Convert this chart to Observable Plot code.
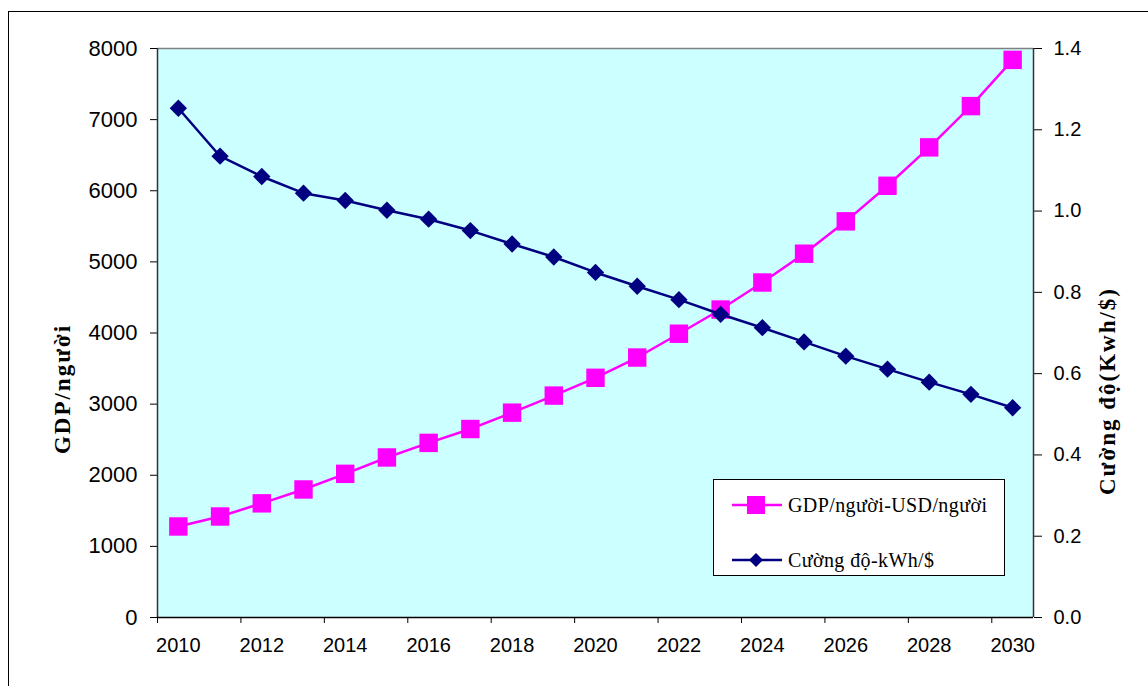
<!DOCTYPE html>
<html>
<head>
<meta charset="utf-8">
<script src="https://cdn.jsdelivr.net/npm/d3@7"></script>
<script src="https://cdn.jsdelivr.net/npm/@observablehq/plot@0.6"></script>
<style>
  html, body { margin: 0; padding: 0; background: #fff; overflow: hidden; }
  #wrap { position: relative; width: 1148px; height: 686px; overflow: hidden; }
  #border { position: absolute; left: 8px; top: 11px; width: 1200px; height: 720px; border: 1px solid #000; box-sizing: border-box; }
  #chart { position: absolute; left: 0; top: 0; }
  .ytitle { position: absolute; font-family: "Liberation Serif", "Times New Roman", serif; font-weight: bold; font-size: 23px; letter-spacing: 2px; white-space: nowrap; transform: translate(-50%, -50%) rotate(-90deg); color: #000; }
  #legend { position: absolute; left: 713px; top: 479px; width: 292px; height: 97px; border: 1px solid #000; background: #fff; box-sizing: border-box; }
  .row { position: absolute; left: 18px; height: 24px; display: flex; align-items: center; font-family: "Liberation Serif", "Times New Roman", serif; font-size: 20px; letter-spacing: 0.4px; color: #000; white-space: nowrap; }
  .row svg { margin-right: 6px; }
</style>
</head>
<body>
<div id="wrap">
  <div id="border"></div>
  <div id="chart"></div>
  <div class="ytitle" style="left:63px; top:389px;">GDP/người</div>
  <div class="ytitle" style="left:1108px; top:391px;">Cường độ(Kwh/$)</div>
  <div id="legend"></div>
</div>
<script>
// Years on the category axis
const years = d3.range(2010, 2031);
// GDP per capita, USD/person (left axis)
const gdp = [1280, 1420, 1605, 1800, 2020, 2250, 2455, 2650, 2880, 3120, 3370, 3655, 3990, 4330, 4710, 5115, 5570, 6070, 6610, 7190, 7840];
// Energy intensity, kWh/$ (right axis)
const intensity = [1.253, 1.135, 1.085, 1.044, 1.026, 1.002, 0.980, 0.952, 0.919, 0.887, 0.849, 0.815, 0.782, 0.746, 0.713, 0.678, 0.643, 0.611, 0.579, 0.549, 0.516];
// Axis ticks
const gdpTicks = d3.range(0, 8001, 1000);
const intensityTicks = [0, 0.2, 0.4, 0.6, 0.8, 1.0, 1.2, 1.4];
const yearLabels = d3.range(2010, 2031, 2);

const gdpMax = 8000, intensityMax = 1.4;
const k = gdpMax / intensityMax; // maps intensity onto the GDP scale

const seriesGdp = years.map((y, i) => ({year: y, value: gdp[i]}));
const seriesInt = years.map((y, i) => ({year: y, value: intensity[i] * k}));

const colGdp = "#ff00ff", colInt = "#000080";

const chart = Plot.plot({
  width: 1148,
  height: 686,
  marginLeft: 157,
  marginRight: 115,
  marginTop: 48,
  marginBottom: 69,
  style: {fontFamily: "'Liberation Sans', Arial, sans-serif", color: "#000", background: "transparent"},
  x: {domain: [2009.5, 2030.5]},
  y: {domain: [0, gdpMax]},
  marks: [
    Plot.frame({fill: "#ccffff", stroke: null}),
    Plot.ruleY([gdpMax], {stroke: "#808080", strokeWidth: 1.5}),
    // left axis
    Plot.axisY(gdpTicks, {anchor: "left", tickSize: 7, tickPadding: 13, fontSize: 22, tickFormat: d => String(d), label: null, stroke: "#000"}),
    // right axis
    Plot.axisY(intensityTicks.map(v => v * k), {anchor: "right", tickSize: 8, tickPadding: 12, fontSize: 20, tickFormat: d => (d / k).toFixed(1), label: null, stroke: "#000"}),
    // x tick marks between category pairs
    Plot.axisX(d3.range(2009.5, 2030, 2), {anchor: "bottom", tickSize: 6, tickFormat: () => "", label: null, stroke: "#000"}),
    Plot.axisX(yearLabels, {anchor: "bottom", tickSize: 0, tickPadding: 20, fontSize: 20, tickFormat: d => String(d), label: null}),
    Plot.ruleX([2009.5], {stroke: "#333", strokeWidth: 1.5}),
    Plot.ruleX([2030.5], {stroke: "#333", strokeWidth: 1.5}),
    Plot.ruleY([0], {stroke: "#000", strokeWidth: 1.5}),
    // GDP series
    Plot.line(seriesGdp, {x: "year", y: "value", stroke: colGdp, strokeWidth: 2.5}),
    Plot.dot(seriesGdp, {x: "year", y: "value", symbol: "square", r: 10.4, fill: colGdp, stroke: null}),
    // intensity series
    Plot.line(seriesInt, {x: "year", y: "value", stroke: colInt, strokeWidth: 2.5}),
    Plot.dot(seriesInt, {x: "year", y: "value", symbol: "diamond2", r: 7.8, fill: colInt, stroke: null})
  ]
});
document.getElementById("chart").appendChild(chart);

// Legend
const legendItems = [
  {label: "GDP/người-USD/người", color: colGdp, symbol: "square", top: 13},
  {label: "Cường độ-kWh/$", color: colInt, symbol: "diamond", top: 68}
];
const legend = document.getElementById("legend");
for (const item of legendItems) {
  const row = document.createElement("div");
  row.className = "row";
  row.style.top = item.top + "px";
  const marker = item.symbol === "square"
    ? `<rect x="15" y="3" width="18" height="18" fill="${item.color}"/>`
    : `<polygon points="24,5 31,12 24,19 17,12" fill="${item.color}"/>`;
  row.innerHTML = `<svg width="50" height="24"><line x1="0" x2="50" y1="12" y2="12" stroke="${item.color}" stroke-width="2.5"/>${marker}</svg><span>${item.label}</span>`;
  legend.appendChild(row);
}
</script>
</body>
</html>
